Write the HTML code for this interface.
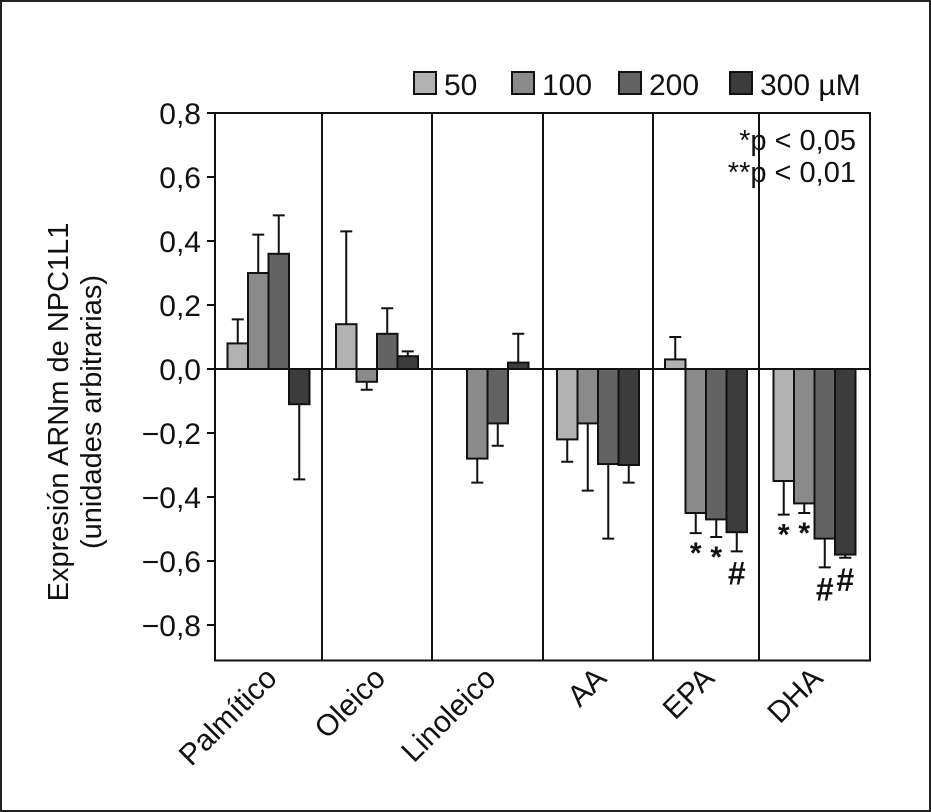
<!DOCTYPE html>
<html><head><meta charset="utf-8"><style>
body{margin:0;background:#fff}
svg{display:block;font-family:"Liberation Sans",sans-serif}
</style></head><body>
<svg id="c" width="931" height="812" xmlns="http://www.w3.org/2000/svg">
<rect x="1" y="1" width="929" height="810" fill="#fff" stroke="#222" stroke-width="2"/>
<g id="g"></g>
</svg>
<script>
const categories=["Palmítico","Oleico","Linoleico","AA","EPA","DHA"];
const seriesNames=["50","100","200","300 µM"];
const s50=[0.08,0.14,0,-0.22,0.03,-0.35];
const s100=[0.30,-0.04,-0.28,-0.17,-0.45,-0.42];
const s200=[0.36,0.11,-0.17,-0.297,-0.47,-0.53];
const s300=[-0.11,0.04,0.02,-0.30,-0.51,-0.58];
const e50=[0.155,0.43,null,-0.29,0.10,-0.455];
const e100=[0.42,-0.065,-0.355,-0.38,-0.513,-0.45];
const e200=[0.48,0.19,-0.24,-0.53,-0.525,-0.62];
const e300=[-0.345,0.055,0.11,-0.355,-0.57,-0.59];
const marks=[["","","",""],["","","",""],["","","",""],["","","",""],["","*","*","#"],["*","*","#","#"]];
const yTicks=[0.8,0.6,0.4,0.2,0.0,-0.2,-0.4,-0.6,-0.8];
const colors=["#b2b2b2","#8a8a8a","#636363","#3c3c3c"];
const bounds=[215,322,432,543,653,759,870];
const y=v=>369-v*320;
const NS="http://www.w3.org/2000/svg",g=document.getElementById('g');
function el(t,a,txt){const e=document.createElementNS(NS,t);for(const k in a)e.setAttribute(k,a[k]);if(txt!=null)e.textContent=txt;g.appendChild(e);return e;}
const series=[s50,s100,s200,s300],errs=[e50,e100,e200,e300];
let r=el('rect',{x:215,y:y(0.8),width:655,height:660.5-y(0.8),fill:'none',stroke:'#111','stroke-width':2});


for(let i=1;i<6;i++){let l=el('line',{x1:bounds[i],x2:bounds[i],y1:y(0.8),y2:660.5,stroke:'#111','stroke-width':2});

}
yTicks.forEach(t=>{let l=el('line',{x1:207,x2:215,y1:y(t),y2:y(t),stroke:'#111','stroke-width':2});


let s=(t<0?'−':'')+Math.abs(t).toFixed(1).replace('.',',');
let tx=el('text',{x:201,y:y(t)+11,'text-anchor':'end','font-size':30,fill:'#111'},s);

});
categories.forEach((c,i)=>{
 const cx=(bounds[i]+bounds[i+1])/2,bw=20.5,x0=cx-2*bw;
 series.forEach((s,j)=>{
  const v=s[i],bx=x0+j*bw;
  if(v!==0){let b=el('rect',{x:bx,y:Math.min(y(v),y(0)),width:bw,height:Math.abs(y(v)-y(0)),fill:colors[j],stroke:'#111','stroke-width':2});
  
  }
  const e=errs[j][i];
  if(e!=null){let l=el('path',{d:`M${bx+bw/2},${y(v)}V${y(e)}M${bx+bw/2-6},${y(e)}H${bx+bw/2+6}`,stroke:'#111','stroke-width':2,fill:'none'});
  
  
  const m=marks[i][j];
  if(m){let t=el('text',{x:bx+bw/2,y:m=='*'?y(e)+30:y(e)+33,'text-anchor':'middle','font-size':m=='*'?30:32,'font-weight':'bold',fill:'#111'},m);
  
  }}
 });
 let t=el('text',{x:cx+10,y:680,'text-anchor':'end','font-size':30,fill:'#111',transform:`rotate(-45 ${cx+10} 680)`},c);
 
 
});
let z=el('line',{x1:215,x2:870,y1:y(0),y2:y(0),stroke:'#111','stroke-width':2});


const lx=[414,512,619,730];
seriesNames.forEach((n,j)=>{let b=el('rect',{x:lx[j],y:72,width:22,height:22,fill:colors[j],stroke:'#111','stroke-width':2});


let t=el('text',{x:lx[j]+30,y:95,'font-size':30,fill:'#111'},n);

});
let p1=el('text',{x:856,y:150,'text-anchor':'end','font-size':29,fill:'#111'},'*p < 0,05');


let p2=el('text',{x:856,y:182,'text-anchor':'end','font-size':29,fill:'#111'},'**p < 0,01');


let y1=el('text',{x:0,y:0,'text-anchor':'middle','font-size':29,fill:'#111',transform:'translate(68 412) rotate(-90)'},'Expresión ARNm de NPC1L1');


let y2=el('text',{x:0,y:0,'text-anchor':'middle','font-size':29,fill:'#111',transform:'translate(101 412) rotate(-90)'},'(unidades arbitrarias)');


</script>
</body></html>
